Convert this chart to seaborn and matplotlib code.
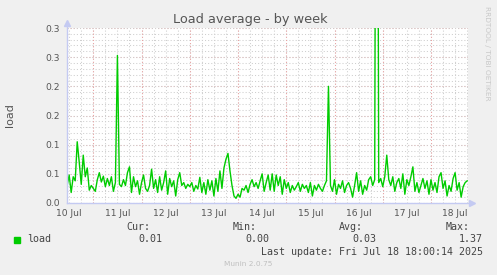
import matplotlib
matplotlib.use("Agg")
import matplotlib.pyplot as plt
import matplotlib.dates as mdates
from matplotlib.patches import Rectangle
import numpy as np
import pandas as pd
import seaborn as sns

# ---------------- data ----------------
start_time = "2025-07-10 11:00"
load_values = [
    0.030, 0.048, 0.018, 0.045, 0.038, 0.105, 0.070, 0.032, 0.082, 0.045,
    0.060, 0.022, 0.030, 0.025, 0.020, 0.040, 0.052, 0.036, 0.046, 0.028,
    0.042, 0.030, 0.045, 0.020, 0.035, 0.253, 0.032, 0.028, 0.040, 0.030,
    0.052, 0.062, 0.018, 0.045, 0.028, 0.038, 0.015, 0.035, 0.048, 0.025,
    0.020, 0.030, 0.058, 0.025, 0.040, 0.018, 0.045, 0.022, 0.035, 0.055,
    0.015, 0.042, 0.028, 0.038, 0.012, 0.040, 0.052, 0.030, 0.035, 0.025,
    0.032, 0.028, 0.035, 0.020, 0.030, 0.024, 0.044, 0.018, 0.035, 0.015,
    0.040, 0.022, 0.038, 0.012, 0.042, 0.020, 0.055, 0.025, 0.060, 0.075,
    0.085, 0.055, 0.030, 0.012, 0.008, 0.015, 0.010, 0.025, 0.022, 0.030,
    0.018, 0.032, 0.040, 0.028, 0.035, 0.025, 0.038, 0.050, 0.020, 0.035,
    0.048, 0.022, 0.050, 0.020, 0.048, 0.030, 0.045, 0.015, 0.040, 0.025,
    0.035, 0.018, 0.030, 0.022, 0.028, 0.035, 0.020, 0.032, 0.025, 0.030,
    0.018, 0.035, 0.012, 0.030, 0.022, 0.032, 0.025, 0.020, 0.030, 0.038,
    0.200, 0.030, 0.020, 0.040, 0.015, 0.032, 0.025, 0.038, 0.018, 0.030,
    0.035, 0.025, 0.010, 0.030, 0.052, 0.020, 0.038, 0.015, 0.030, 0.022,
    0.040, 0.045, 0.030, 0.040, 1.370, 0.035, 0.042, 0.028, 0.045, 0.082,
    0.040, 0.030, 0.045, 0.020, 0.035, 0.042, 0.025, 0.050, 0.015, 0.040,
    0.030, 0.045, 0.062, 0.020, 0.035, 0.018, 0.030, 0.042, 0.025, 0.038,
    0.015, 0.040, 0.022, 0.035, 0.018, 0.045, 0.052, 0.025, 0.038, 0.012,
    0.030, 0.020, 0.042, 0.052, 0.022, 0.035, 0.010, 0.028, 0.035, 0.038,
]
y_ticks = [0.0, 0.05, 0.10, 0.15, 0.20, 0.25, 0.30]
y_tick_labels = ["0.0", "0.1", "0.1", "0.2", "0.2", "0.3", "0.3"]
day_labels = ["10 Jul", "11 Jul", "12 Jul", "13 Jul", "14 Jul",
              "15 Jul", "16 Jul", "17 Jul", "18 Jul"]
legend_name = "load"
stat_headers = ["Cur:", "Min:", "Avg:", "Max:"]
stat_values = ["0.01", "0.00", "0.03", "1.37"]
title = "Load average - by week"
y_label = "load"
last_update = "Last update: Fri Jul 18 18:00:14 2025"
footer = "Munin 2.0.75"
watermark = "RRDTOOL / TOBI OETIKER"

times = pd.date_range(start_time, periods=len(load_values), freq="h")
df = pd.DataFrame({"time": times, "load": load_values})

# ---------------- figure ----------------
W, H = 497, 275
fig = plt.figure(figsize=(W / 100, H / 100), dpi=100, facecolor="#F0F0F0")
L, R, T, B = 67, 468, 28, 203
ax = fig.add_axes([L / W, 1 - B / H, (R - L) / W, (B - T) / H])
ax.set_facecolor("#FFFFFF")

LINE = "#00CC00"
TXT = "#555555"
AXC = "#C4CAF2"

sns.lineplot(data=df, x="time", y="load", ax=ax, color=LINE, linewidth=1.0,
             zorder=5)

x0 = pd.Timestamp("2025-07-10 10:55")
x1 = pd.Timestamp("2025-07-18 18:25")
ax.set_xlim(x0, x1)
ax.set_ylim(0, 0.30)

# y grid
ax.set_yticks(y_ticks)
ax.set_yticklabels(y_tick_labels)
ax.set_yticks(np.arange(0, 0.3001, 0.01), minor=True)
ax.yaxis.remove_overlapping_locs = False
ax.grid(which="minor", axis="y", color="#CFCFCF", linestyle=(0, (1, 2)), linewidth=0.75)
ax.grid(which="major", axis="y", color="#EBA3A3", linestyle=(0, (1, 2)), linewidth=0.75)

# x grid: minor every 6h (gray), days (red) drawn as lines
six_h = pd.date_range("2025-07-10 12:00", "2025-07-18 18:00", freq="6h")
midnights = pd.date_range("2025-07-11", "2025-07-18", freq="D")
for t in six_h:
    ax.axvline(t, color="#CFCFCF", linestyle=(0, (1, 2)), linewidth=0.75, zorder=1)
for t in midnights:
    ax.axvline(t, color="#EBA3A3", linestyle=(0, (1, 2)), linewidth=0.75, zorder=2)

noons = pd.date_range("2025-07-10 12:00", periods=len(day_labels), freq="D")
ax.set_xticks(noons)
ax.set_xticklabels(day_labels)
ax.xaxis.set_minor_locator(matplotlib.ticker.NullLocator())
ax.set_xlabel("")
ax.set_ylabel("")

ax.tick_params(axis="both", which="both", length=0, labelsize=6.6, colors=TXT)
ax.tick_params(axis="y", pad=5)
ax.tick_params(axis="x", pad=4)

for s in ax.spines.values():
    s.set_visible(False)

# axis lines with arrows
ax.plot([0, 0], [0, 1.03], transform=ax.transAxes, color=AXC, lw=1.0,
        clip_on=False, zorder=6)
ax.plot([0, 1.01], [0, 0], transform=ax.transAxes, color=AXC, lw=1.0,
        clip_on=False, zorder=6)
ax.plot([0], [1.03], marker="^", markersize=4, color=AXC,
        transform=ax.transAxes, clip_on=False, zorder=6)
ax.plot([1.01], [0], marker=">", markersize=4, color=AXC,
        transform=ax.transAxes, clip_on=False, zorder=6)

# title, labels
fig.text(250 / W, 1 - 19 / H, title, ha="center", va="center",
         fontsize=9.3, color=TXT, family="DejaVu Sans")
fig.text(10 / W, 1 - 115 / H, y_label, ha="center", va="center",
         rotation=90, fontsize=8, color=TXT, family="DejaVu Sans")
fig.text(487 / W, 1 - 53 / H, watermark, ha="center", va="center",
         rotation=270, fontsize=5.3, color="#C8C8C8", family="DejaVu Sans")

# legend
mono = "DejaVu Sans Mono"
fig.patches.append(Rectangle((14 / W, 1 - 243 / H), 6 / W, 6 / H,
                             transform=fig.transFigure, color=LINE))
fig.text(27 / W, 1 - 239 / H, legend_name, ha="left", va="center",
         fontsize=7.2, color="#444444", family=mono)
head_right = [150, 257, 363, 470]
val_right = [162, 269, 376, 483]
for hx, h in zip(head_right, stat_headers):
    fig.text(hx / W, 1 - 227 / H, h, ha="right", va="center",
             fontsize=7.2, color="#444444", family=mono)
for vx, v in zip(val_right, stat_values):
    fig.text(vx / W, 1 - 239 / H, v, ha="right", va="center",
             fontsize=7.2, color="#444444", family=mono)
fig.text(483 / W, 1 - 252 / H, last_update, ha="right", va="center",
         fontsize=7.2, color="#444444", family=mono)
fig.text(248 / W, 1 - 264 / H, footer, ha="center", va="center",
         fontsize=5.3, color="#C0C0C0", family="DejaVu Sans")

fig.savefig("out.png", dpi=100, facecolor=fig.get_facecolor())
